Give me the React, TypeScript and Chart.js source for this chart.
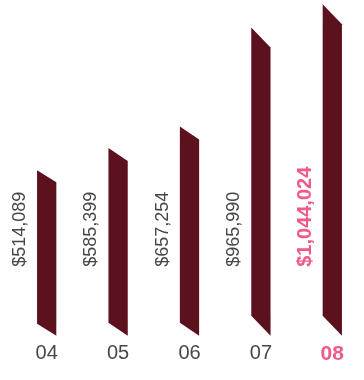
import React, { useEffect, useRef } from "react";
import { Chart, registerables } from "chart.js";

Chart.register(...registerables);

// ---- data ----
const years = ["04", "05", "06", "07", "08"];
const revenue = [514089, 585399, 657254, 965990, 1044024];
const yMin = 0;
const yMax = 1125000;

// ---- styles ----
const BAR = "#5c111e";
const PINK = "#ef5a8a";
const TEXT = "#474747";
const FONT = "'Liberation Sans', Arial, Helvetica, sans-serif";
const SHEAR = [12, 13, 13, 20, 20];

const fmt = (v: number) => "$" + v.toLocaleString("en-US");

const slantPlugin = {
  id: "slantBars",
  afterDatasetsDraw(chart: any) {
    const ctx = chart.ctx as CanvasRenderingContext2D;
    const meta = chart.getDatasetMeta(0);
    meta.data.forEach((el: any, i: number) => {
      const { x, y, base, width } = el.getProps(["x", "y", "base", "width"], true);
      const l = x - width / 2;
      const r = x + width / 2;
      const s = SHEAR[i];
      ctx.save();
      ctx.fillStyle = BAR;
      ctx.beginPath();
      ctx.moveTo(l, y - s);
      ctx.lineTo(r, y);
      ctx.lineTo(r, base);
      ctx.lineTo(l, base - s);
      ctx.closePath();
      ctx.fill();

      const last = i === revenue.length - 1;
      ctx.translate(l - 17, base - 69);
      ctx.rotate(-Math.PI / 2);
      ctx.font = last ? `bold 20px ${FONT}` : `18px ${FONT}`;
      ctx.fillStyle = last ? PINK : TEXT;
      ctx.textAlign = "left";
      ctx.textBaseline = "middle";
      ctx.fillText(fmt(revenue[i]), 0, 0);
      ctx.restore();
    });
  },
};

export default function App() {
  const ref = useRef<HTMLCanvasElement | null>(null);

  useEffect(() => {
    document.body.style.margin = "0";
    document.body.style.overflow = "hidden";
    const canvas = ref.current!;
    const chart = new Chart(canvas, {
      type: "bar",
      data: {
        labels: years,
        datasets: [
          {
            data: revenue,
            backgroundColor: "rgba(0,0,0,0)",
            borderWidth: 0,
            barPercentage: 0.27,
            categoryPercentage: 1,
          },
        ],
      },
      options: {
        animation: false,
        responsive: false,
        devicePixelRatio: 1,
        layout: { padding: { left: 11, right: 0, top: 0, bottom: 7 } },
        plugins: { legend: { display: false }, tooltip: { enabled: false } },
        scales: {
          x: {
            offset: true,
            grid: { display: false, drawTicks: false },
            border: { display: false },
            ticks: {
              padding: 6,
              color: (c: any) => (c.index === years.length - 1 ? PINK : TEXT),
              font: (c: any) =>
                c.index === years.length - 1
                  ? { family: FONT, size: 21, weight: "bold" }
                  : { family: FONT, size: 20, weight: "normal" },
            },
          },
          y: {
            display: false,
            min: yMin,
            max: yMax,
          },
        },
      },
      plugins: [slantPlugin],
    });
    return () => chart.destroy();
  }, []);

  return (
    <div style={{ width: 364, height: 380, overflow: "hidden", position: "relative" }}>
      <canvas ref={ref} width={368} height={380} style={{ display: "block" }} />
    </div>
  );
}
